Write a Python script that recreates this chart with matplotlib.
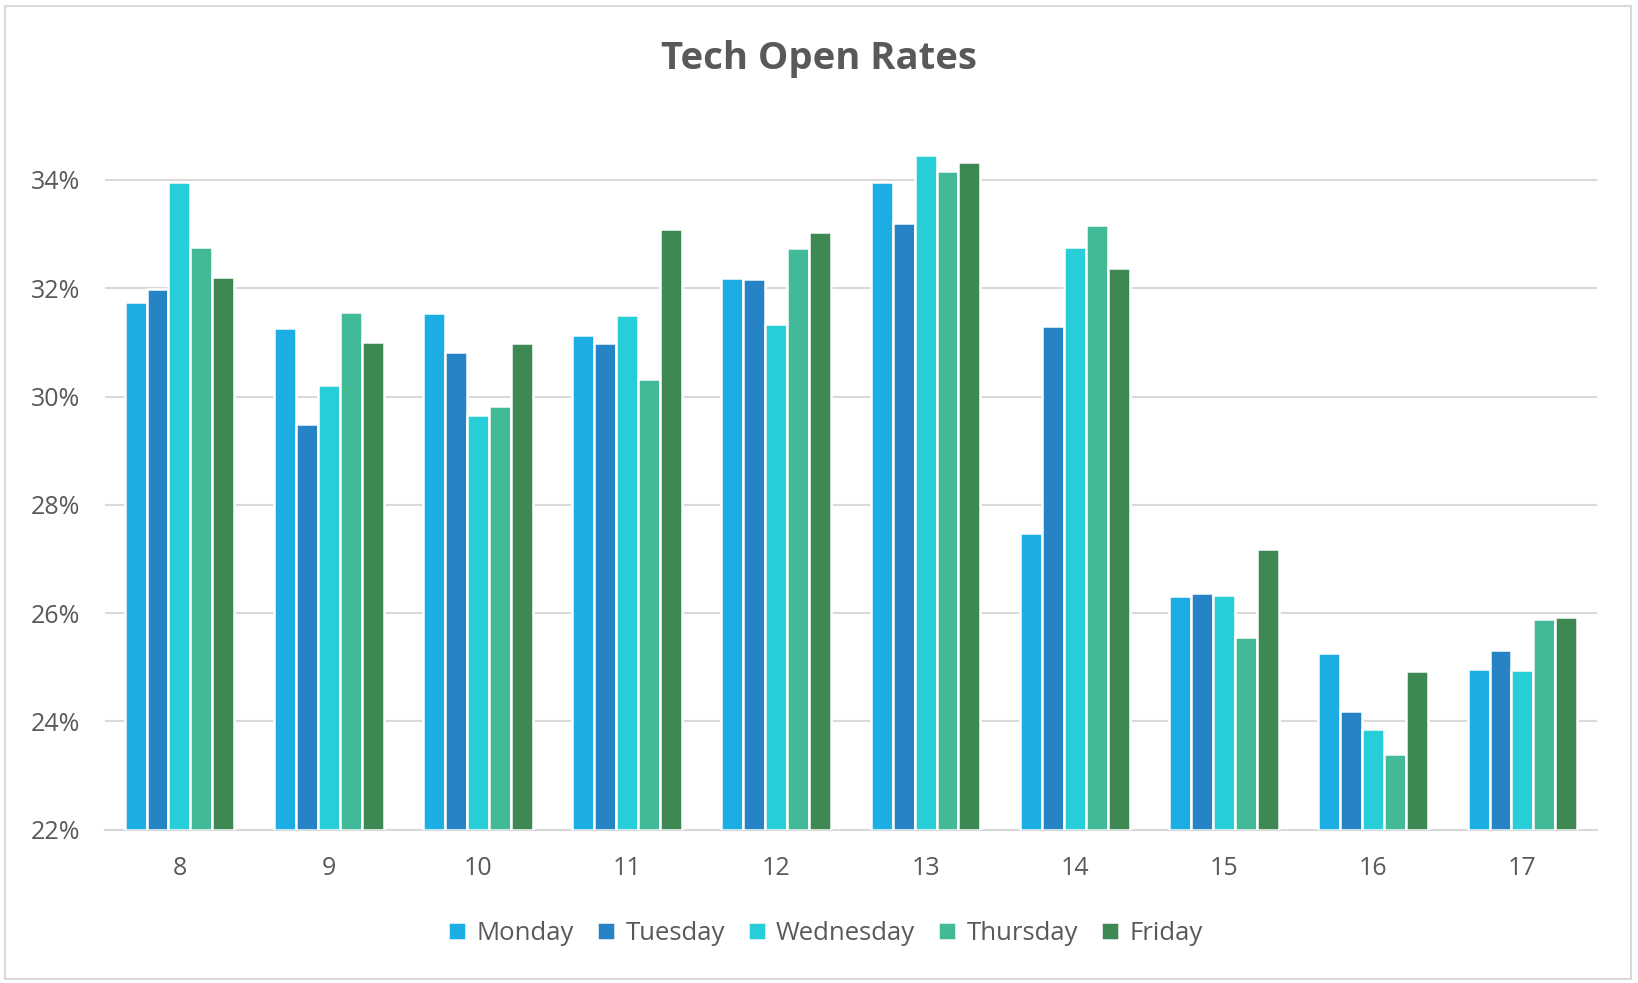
import matplotlib
matplotlib.use("Agg")
import matplotlib.pyplot as plt
import numpy as np
from matplotlib.patches import Rectangle
from matplotlib.ticker import FuncFormatter

hours = ["8", "9", "10", "11", "12", "13", "14", "15", "16", "17"]
monday    = [31.74, 31.26, 31.55, 31.13, 32.19, 33.96, 27.48, 26.32, 25.26, 24.97]
tuesday   = [31.99, 29.49, 30.82, 30.99, 32.17, 33.21, 31.30, 26.38, 24.20, 25.32]
wednesday = [33.96, 30.22, 29.66, 31.51, 31.34, 34.46, 32.77, 26.34, 23.85, 24.95]
thursday  = [32.77, 31.57, 29.83, 30.33, 32.75, 34.17, 33.17, 25.55, 23.39, 25.90]
friday    = [32.21, 31.01, 30.99, 33.09, 33.04, 34.33, 32.38, 27.19, 24.93, 25.92]
series_names = ["Monday", "Tuesday", "Wednesday", "Thursday", "Friday"]
yticks = [22, 24, 26, 28, 30, 32, 34]

colors = ["#1CADE4", "#2683C6", "#27CED7", "#42BA97", "#3E8853"]
text_color = "#595959"
grid_color = "#D9D9D9"

plt.rcParams['font.family'] = ['Open Sans', 'DejaVu Sans']

fig = plt.figure(figsize=(16.38, 9.83), dpi=100)
ax = fig.add_axes([0.064, 0.156, 0.911, 0.716])

data = [monday, tuesday, wednesday, thursday, friday]
x = np.arange(len(hours))
slot = 0.147
for i, (name, vals) in enumerate(zip(series_names, data)):
    offs = (i - 2) * slot
    ax.bar(x + offs, np.array(vals) - 22, bottom=22, width=slot,
           color=colors[i], edgecolor="white", linewidth=1.8, label=name, zorder=3)

ax.set_xlim(-0.5, len(hours) - 0.5)
ax.set_ylim(22, 35)
ax.set_yticks(yticks)
ax.yaxis.set_major_formatter(FuncFormatter(lambda v, p: f"{int(v)}%"))
ax.set_xticks(x)
ax.set_xticklabels(hours)
ax.grid(axis="y", color=grid_color, linewidth=1.5, zorder=0)
ax.set_axisbelow(True)
for s in ["top", "right", "left"]:
    ax.spines[s].set_visible(False)
ax.spines["bottom"].set_color(grid_color)
ax.spines["bottom"].set_linewidth(1.5)
ax.tick_params(axis="both", length=0, labelsize=18, labelcolor=text_color)
ax.tick_params(axis="y", pad=18)
ax.tick_params(axis="x", pad=19)

fig.text(0.500, 0.940, "Tech Open Rates", ha="center", va="center",
         fontsize=27.5, fontweight="bold", color=text_color)

leg = fig.legend(loc="center", bbox_to_anchor=(0.504, 0.050), ncol=5, frameon=False,
                 fontsize=18.5, handlelength=0.7, handleheight=0.7, handletextpad=0.4,
                 columnspacing=0.9, labelcolor=text_color)

fig.patches.append(Rectangle((0.003, 0.004), 0.993, 0.99, transform=fig.transFigure,
                             fill=False, edgecolor=grid_color, linewidth=1.5))

fig.savefig("out.png", dpi=100, facecolor="white")
